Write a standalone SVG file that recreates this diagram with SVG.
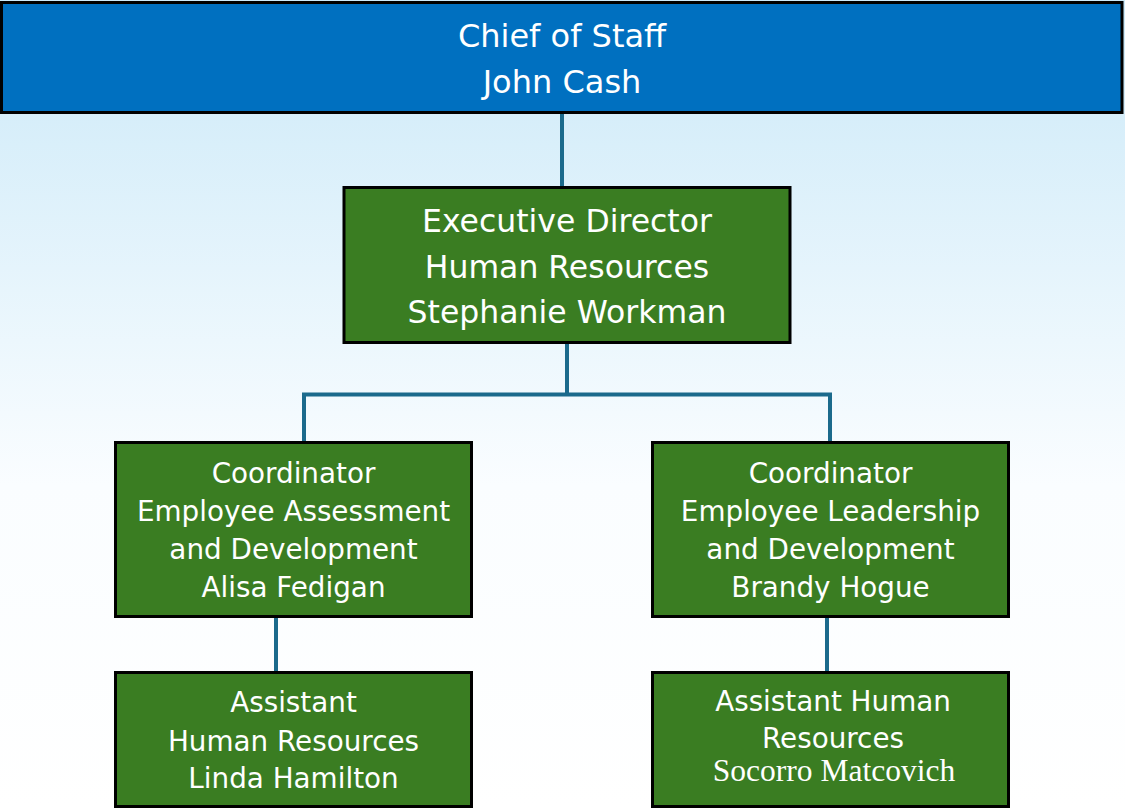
<svg xmlns="http://www.w3.org/2000/svg" width="1125" height="809" viewBox="0 0 1125 809">
<defs>
<linearGradient id="bg" x1="0" y1="0" x2="0" y2="809" gradientUnits="userSpaceOnUse">
<stop offset="0" stop-color="#CBE9F8"/>
<stop offset="0.6" stop-color="#FAFDFF"/>
<stop offset="1" stop-color="#FFFFFF"/>
</linearGradient>
<style>
.box{stroke:#000;stroke-width:3}
.blue{fill:#0070C0}
.green{fill:#3A7D22}
.t{font-family:"DejaVu Sans","Open Sans",sans-serif;fill:#fff;text-anchor:middle}
.s{font-family:"Liberation Serif","Times New Roman",serif;fill:#fff;text-anchor:middle}
.conn{stroke:#1B6A8C;stroke-width:4;fill:none}
</style>
</defs>
<rect x="0" y="0" width="1125" height="809" fill="url(#bg)"/>
<g id="connectors">
<path class="conn" d="M562 113V187"/>
<path class="conn" d="M567 343V394.5M304 442V394.5H830V442"/>
<path class="conn" d="M276 618V672"/>
<path class="conn" d="M827 618V672"/>
</g>
<g id="chief">
<rect class="box blue" x="1.5" y="2.5" width="1120.5" height="110"/>
<text class="t" x="562" y="47" font-size="32">Chief of Staff</text>
<text class="t" x="562" y="93" font-size="32">John Cash</text>
</g>
<g id="exec">
<rect class="box green" x="344" y="187.5" width="446" height="155"/>
<text class="t" x="567" y="232" font-size="31.5">Executive Director</text>
<text class="t" x="567" y="278" font-size="31.5">Human Resources</text>
<text class="t" x="567" y="323" font-size="31.5">Stephanie Workman</text>
</g>
<g id="coord-assessment">
<rect class="box green" x="115.5" y="442.5" width="356" height="174"/>
<text class="t" x="293.5" y="483" font-size="27.8">Coordinator</text>
<text class="t" x="293.5" y="521" font-size="27.8">Employee Assessment</text>
<text class="t" x="293.5" y="559" font-size="27.8">and Development</text>
<text class="t" x="293.5" y="597" font-size="27.8">Alisa Fedigan</text>
</g>
<g id="coord-leadership">
<rect class="box green" x="652.5" y="442.5" width="356" height="174"/>
<text class="t" x="830.5" y="483" font-size="27.8">Coordinator</text>
<text class="t" x="830.5" y="521" font-size="27.8">Employee Leadership</text>
<text class="t" x="830.5" y="559" font-size="27.8">and Development</text>
<text class="t" x="830.5" y="597" font-size="27.8">Brandy Hogue</text>
</g>
<g id="assistant-left">
<rect class="box green" x="115.5" y="672.5" width="356" height="134"/>
<text class="t" x="293.5" y="712" font-size="27.8">Assistant</text>
<text class="t" x="293.5" y="751" font-size="27.8">Human Resources</text>
<text class="t" x="293.5" y="788" font-size="27.8">Linda Hamilton</text>
</g>
<g id="assistant-right">
<rect class="box green" x="652.5" y="672.5" width="356" height="134"/>
<text class="t" x="833" y="711" font-size="27.8">Assistant Human</text>
<text class="t" x="833" y="748" font-size="27.8">Resources</text>
<text class="s" x="834" y="781" font-size="31.5">Socorro Matcovich</text>
</g>
</svg>
